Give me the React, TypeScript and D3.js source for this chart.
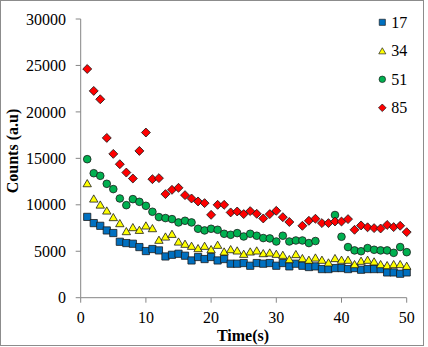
import React from 'react';
import * as d3 from 'd3';

// time in seconds, one reading per second
const times = [
  1, 2, 3, 4, 5, 6, 7, 8, 9, 10, 11, 12, 13, 14, 15, 16, 17, 18, 19, 20, 21, 22, 23, 24, 25,
  26, 27, 28, 29, 30, 31, 32, 33, 34, 35, 36, 37, 38, 39, 40, 41, 42, 43, 44, 45, 46, 47, 48, 49, 50,
];

const counts17 = [
  8700, 8030, 7740, 7240, 6960, 6020, 5880, 5810, 5450, 5020, 5240, 5090, 4440, 4620, 4730, 4520, 4010,
  4380, 4160, 4380, 4010, 4160, 3660, 3660, 3730, 3440, 3730, 3660, 3730, 3440, 3730, 3370, 3660, 3440,
  3300, 3370, 3080, 3080, 3190, 3190, 3080, 3190, 3010, 3080, 3080, 3080, 2720, 2720, 2580, 2720,
];

const counts34 = [
  12330, 10680, 10030, 9390, 8680, 8030, 7170, 7600, 7310, 7780, 7490, 6240, 6590, 6880, 6050, 5810, 5590,
  5340, 5590, 5230, 5700, 4980, 5230, 5090, 4730, 4980, 5090, 4800, 4870, 4730, 4620, 4160, 4700, 4270,
  4090, 4330, 4090, 3800, 4270, 4090, 4090, 3620, 3980, 4090, 3910, 3620, 3510, 3620, 3620, 3440,
];

const counts51: (number | null)[] = [
  14910, 13400, 13120, 12260, 11690, 10680, 9960, 10610, 10320, 9890, 9250, 8680, 8570, 8460, 8100, 8280,
  8100, 7420, 7240, 7420, 7310, 6880, 6770, 6950, 6590, 6880, 6670, 6420, 6380, 6050, 6670, 6050, 6160,
  6160, 5880, 6100, null, null, 8900, 6560, 5450, 5090, 5000, 5340, 5160, 5090, 5090, 4830, 5450, 4900,
];

const counts85: (number | null)[] = [
  24620, 22260, 21360, 17200, 15480, 14370, 13470, 12830, 15800, 17780, 12760, 12870, 11150, 11610, 11830,
  11040, 10680, 10360, 10180, 8920, 10000, 10000, 9180, 9280, 9000, 9320, 9030, 8530, 9000, 9350, 8670,
  8150, null, 7740, 8280, 8500, 8030, 8030, 8200, 8200, 8460, 7310, 7780, 7580, 7490, 7450, 7830, 7600,
  7740, 7060,
];

const yTicks = [0, 5000, 10000, 15000, 20000, 25000, 30000];
const xTicks = [0, 10, 20, 30, 40, 50];

const W = 428;
const H = 347;
const FONT = 'Liberation Serif, Times New Roman, DejaVu Serif, serif';
const AXIS = '#868686';

// box-centred triangle, like spreadsheet markers
const triangle: d3.SymbolType = {
  draw(ctx, size) {
    const s = Math.sqrt(size);
    ctx.moveTo(0, -s / 2);
    ctx.lineTo(s * 0.58, s / 2);
    ctx.lineTo(-s * 0.58, s / 2);
    ctx.closePath();
  },
};

const series = [
  { name: '17', values: counts17, fill: '#0070C0', path: d3.symbol(d3.symbolSquare, 52)()!, rotate: 0 },
  { name: '34', values: counts34, fill: '#FFFF00', path: d3.symbol(triangle, 52)()!, rotate: 0 },
  { name: '51', values: counts51, fill: '#00B050', path: d3.symbol(d3.symbolCircle, 46)()!, rotate: 0 },
  { name: '85', values: counts85, fill: '#FF0000', path: d3.symbol(d3.symbolSquare, 40)()!, rotate: 45 },
];

const txt: React.CSSProperties = { fontFamily: FONT, fontSize: 16 };

export default function App() {
  const x = d3.scaleLinear().domain([0, 50]).range([80.7, 406.7]);
  const y = d3.scaleLinear().domain([0, 30000]).range([297.7, 19]);

  return (
    <svg width={W} height={H} style={{ position: 'fixed', left: 0, top: 0, background: '#fff' }}>
      <rect x={0.5} y={0.5} width={423} height={345} fill="#fff" stroke="#8c8c8c" />

      {/* y axis */}
      <line x1={x(0)} x2={x(0)} y1={y(30000)} y2={y(0)} stroke={AXIS} />
      {yTicks.map((t) => (
        <g key={t}>
          <line x1={x(0) - 5} x2={x(0)} y1={y(t)} y2={y(t)} stroke={AXIS} />
          <text x={66} y={y(t)} dy="0.35em" textAnchor="end" style={txt} fill="#000">
            {t}
          </text>
        </g>
      ))}

      {/* x axis */}
      <line x1={x(0)} x2={x(50)} y1={y(0)} y2={y(0)} stroke={AXIS} />
      {xTicks.map((t) => (
        <g key={t}>
          <line x1={x(t)} x2={x(t)} y1={y(0)} y2={y(0) + 5} stroke={AXIS} />
          <text x={x(t)} y={323} textAnchor="middle" style={txt} fill="#000">
            {t}
          </text>
        </g>
      ))}

      <text x={243} y={341} textAnchor="middle" style={{ ...txt, fontWeight: 'bold' }} fill="#000">
        Time(s)
      </text>
      <text
        transform={`translate(18,151) rotate(-90)`}
        textAnchor="middle"
        style={{ ...txt, fontWeight: 'bold' }}
        fill="#000"
      >
        Counts (a.u)
      </text>

      {/* markers */}
      {series.map((s) => (
        <g key={s.name}>
          {s.values.map((v, i) =>
            v == null ? null : (
              <path
                key={i}
                d={s.path}
                transform={`translate(${x(times[i])},${y(v)}) rotate(${s.rotate})`}
                fill={s.fill}
                stroke="#1a1a1a"
                strokeWidth={0.8}
              />
            ),
          )}
        </g>
      ))}

      {/* legend */}
      {series.map((s, i) => (
        <g key={s.name} transform={`translate(382.3,${22.3 + i * 28.5})`}>
          <path d={s.path} transform={`rotate(${s.rotate}) scale(0.85)`} fill={s.fill} stroke="#1a1a1a" strokeWidth={0.8} />
          <text x={9} dy="0.35em" style={txt} fill="#000">
            {s.name}
          </text>
        </g>
      ))}
    </svg>
  );
}
